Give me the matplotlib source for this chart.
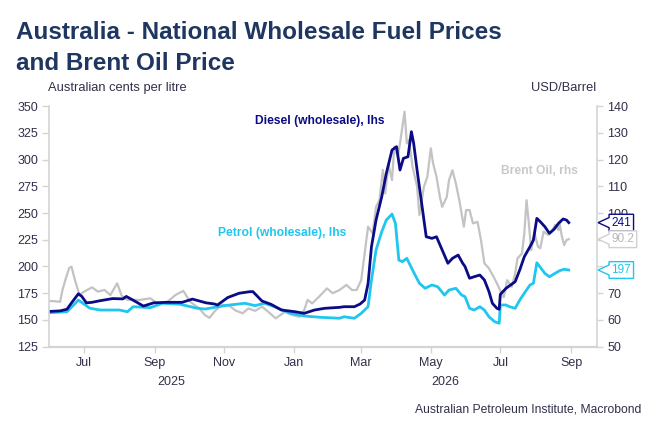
import numpy as np
import pandas as pd
import matplotlib
matplotlib.use('Agg')
import matplotlib.pyplot as plt
import matplotlib.dates as mdates
import matplotlib.transforms as mtransforms
from matplotlib.path import Path

plt.rcParams['font.family'] = ['Liberation Sans', 'DejaVu Sans']

# ---- data ----
diesel_dates = ['2025-06-01', '2025-06-10', '2025-06-16', '2025-06-20', '2025-06-26', '2025-06-29',
                '2025-07-03', '2025-07-08', '2025-07-15', '2025-07-26', '2025-08-04', '2025-08-07',
                '2025-08-13', '2025-08-22', '2025-08-31', '2025-09-11', '2025-09-25', '2025-10-04',
                '2025-10-16', '2025-10-23', '2025-10-26', '2025-11-04', '2025-11-14', '2025-11-23',
                '2025-11-26', '2025-12-04', '2025-12-12', '2025-12-21', '2026-01-02', '2026-01-10',
                '2026-01-19', '2026-01-28', '2026-02-10', '2026-02-14', '2026-02-23', '2026-02-28',
                '2026-03-04', '2026-03-07', '2026-03-10', '2026-03-14', '2026-03-19', '2026-03-23',
                '2026-03-28', '2026-04-01', '2026-04-04', '2026-04-07', '2026-04-11', '2026-04-14',
                '2026-04-16', '2026-04-19', '2026-04-23', '2026-04-27', '2026-05-02', '2026-05-06',
                '2026-05-11', '2026-05-16', '2026-05-20', '2026-05-25', '2026-05-29', '2026-05-31',
                '2026-06-04', '2026-06-08', '2026-06-13', '2026-06-17', '2026-06-21', '2026-06-24',
                '2026-06-28', '2026-06-30', '2026-07-01', '2026-07-06', '2026-07-10', '2026-07-14',
                '2026-07-18', '2026-07-22', '2026-07-27', '2026-07-30', '2026-08-02', '2026-08-05',
                '2026-08-09', '2026-08-13', '2026-08-17', '2026-08-21', '2026-08-25', '2026-08-28',
                '2026-08-30']
diesel = [158, 158.5, 160, 166, 174.5, 172,
          166, 166.5, 168, 170, 169.7, 172,
          168.5, 163, 166, 166.5, 166.5, 169.5,
          166, 165, 164, 171, 175, 176.4,
          176.5, 167.7, 164.6, 159.3, 157.7, 156.2,
          159.3, 160.9, 161.8, 162.4, 162.4, 164.9,
          168.6, 184, 218.5, 243.4, 265.2, 287,
          308.9, 312, 290.2, 301.1, 302.6, 326,
          315.1, 290, 259, 227.8, 226.3, 227.8,
          215.4, 203, 207.6, 210.7, 203, 200,
          189, 190.4, 192, 187.4, 176.6, 165.6,
          160.9, 160, 174, 179.6, 182.7, 185.8,
          196.7, 209.1, 218.5, 224.7, 245, 241.9,
          237.2, 231, 234.7, 240.3, 244.4, 243.4,
          241]

petrol_dates = ['2025-06-01', '2025-06-16', '2025-06-20', '2025-06-26', '2025-07-06', '2025-07-15',
                '2025-08-01', '2025-08-08', '2025-08-13', '2025-08-28', '2025-09-08', '2025-09-23',
                '2025-10-08', '2025-10-15', '2025-11-01', '2025-11-19', '2025-11-28', '2025-12-06',
                '2025-12-15', '2025-12-29', '2026-01-10', '2026-01-24', '2026-02-10', '2026-02-14',
                '2026-02-23', '2026-03-01', '2026-03-07', '2026-03-10', '2026-03-14', '2026-03-19',
                '2026-03-23', '2026-03-28', '2026-03-31', '2026-04-03', '2026-04-06', '2026-04-10',
                '2026-04-15', '2026-04-21', '2026-04-26', '2026-05-02', '2026-05-07', '2026-05-13',
                '2026-05-17', '2026-05-23', '2026-05-28', '2026-05-31', '2026-06-04', '2026-06-08',
                '2026-06-13', '2026-06-17', '2026-06-21', '2026-06-26', '2026-06-30', '2026-07-01',
                '2026-07-06', '2026-07-09', '2026-07-14', '2026-07-18', '2026-07-22', '2026-07-27',
                '2026-07-30', '2026-08-02', '2026-08-05', '2026-08-09', '2026-08-13', '2026-08-18',
                '2026-08-22', '2026-08-26', '2026-08-30']
petrol = [156.8, 157.7, 162, 168.6, 161, 159.3,
          159.3, 157.7, 162.4, 161.5, 165.6, 164.7,
          161, 160.2, 163.4, 165.6, 163.4, 165.6,
          162.4, 156.2, 153.7, 152.5, 151.6, 153,
          151.6, 156.2, 162.4, 187.4, 215.4, 232.5,
          243.4, 249, 240.3, 206, 204.5, 207.6,
          196.7, 184.3, 179.6, 182.7, 181.1, 173.3,
          178, 179.6, 173.3, 171.8, 160.9, 159.3,
          162.4, 159.3, 153, 148.4, 146.9, 164,
          164, 162.4, 160.9, 168.6, 175, 182.7,
          184.3, 203.5, 199.2, 193.6, 190.4, 193.6,
          196.1, 197.4, 196.7]

brent_dates = ['2025-06-01', '2025-06-05', '2025-06-10', '2025-06-12', '2025-06-15', '2025-06-18',
               '2025-06-20', '2025-06-23', '2025-06-27', '2025-07-01', '2025-07-08', '2025-07-13',
               '2025-07-19', '2025-07-24', '2025-07-30', '2025-08-03', '2025-08-08', '2025-08-19',
               '2025-08-28', '2025-09-04', '2025-09-12', '2025-09-19', '2025-09-26', '2025-10-02',
               '2025-10-10', '2025-10-15', '2025-10-19', '2025-10-24', '2025-10-30', '2025-11-05',
               '2025-11-11', '2025-11-17', '2025-11-22', '2025-11-28', '2025-12-04', '2025-12-11',
               '2025-12-16', '2025-12-24', '2025-12-31', '2026-01-06', '2026-01-10', '2026-01-13',
               '2026-01-17', '2026-01-23', '2026-01-30', '2026-02-04', '2026-02-10', '2026-02-16',
               '2026-02-21', '2026-02-25', '2026-03-01', '2026-03-04', '2026-03-07', '2026-03-11',
               '2026-03-14', '2026-03-17', '2026-03-20', '2026-03-22', '2026-03-25', '2026-03-28',
               '2026-03-30', '2026-04-02', '2026-04-04', '2026-04-08', '2026-04-10', '2026-04-12',
               '2026-04-15', '2026-04-19', '2026-04-21', '2026-04-25', '2026-04-28', '2026-05-01',
               '2026-05-03', '2026-05-06', '2026-05-09', '2026-05-11', '2026-05-15', '2026-05-17',
               '2026-05-20', '2026-05-23', '2026-05-26', '2026-05-30', '2026-06-01', '2026-06-04',
               '2026-06-07', '2026-06-11', '2026-06-14', '2026-06-17', '2026-06-21', '2026-06-25',
               '2026-06-28', '2026-07-02', '2026-07-04', '2026-07-07', '2026-07-11', '2026-07-14',
               '2026-07-16', '2026-07-20', '2026-07-22', '2026-07-24', '2026-07-26', '2026-07-28',
               '2026-07-31', '2026-08-03', '2026-08-05', '2026-08-08', '2026-08-12', '2026-08-15',
               '2026-08-18', '2026-08-21', '2026-08-22', '2026-08-24', '2026-08-26', '2026-08-28',
               '2026-08-30']
brent = [67.1, 67, 66.8, 71.2, 75.6, 79.5,
         79.9, 74.9, 69.3, 70.6, 72.2, 70.6,
         71.2, 69.3, 73.7, 69, 67.5, 67.5,
         68.1, 66, 66.8, 69.3, 70.9, 66.8,
         64.3, 61.8, 60.8, 63.5, 65.6, 65.4,
         63.5, 62.5, 64.3, 63.4, 65, 62.5,
         60.6, 63, 61.8, 61.2, 63.7, 67.5,
         66.2, 68.7, 71.8, 70, 71.2, 73.1,
         71.2, 71.2, 74.9, 84.9, 94.9, 92.4,
         102.3, 104.8, 116.1, 107.3, 118, 112.3,
         124.8, 121, 126, 137.9, 126, 127.3,
         117.3, 109.8, 99.2, 109.8, 113.6, 124.2,
         118.6, 113.6, 106, 102.3, 106, 112.3,
         116, 111, 104.8, 94.9, 101.1, 101.1,
         96.1, 96.7, 89.9, 81.2, 79.3, 76.2,
         73.7, 70, 68.5, 74.9, 72.4, 77.4,
         83, 84.9, 92.4, 104.8, 96.1, 86.1,
         92.4, 87.4, 86.8, 93, 91.8, 93,
         95.5, 93.6, 96.1, 91.1, 88, 89.9,
         90.2]

tick_months = ['2025-07-01', '2025-09-01', '2025-11-01', '2026-01-01',
               '2026-03-01', '2026-05-01', '2026-07-01', '2026-09-01']

navy = '#0b0b86'
cyan = '#1fc6f0'
grey = '#c3c3c3'
axis_grey = '#d4d4d4'
label_col = '#30304a'


def tag_box(x0, y0, width, height, mutation_size):
    # box with a left-pointing notch, like the Macrobond end value tags
    pad = 0.2 * mutation_size
    x0, y0 = x0 - pad, y0 - pad
    x1, y1 = x0 + width + 2 * pad, y0 + height + 2 * pad
    ym = (y0 + y1) / 2
    half = 0.3 * (y1 - y0)
    tip = 0.93 * mutation_size
    return Path([(x0, y0), (x1, y0), (x1, y1), (x0, y1), (x0, ym + half),
                 (x0 - tip, ym), (x0, ym - half), (x0, y0)], closed=True)


fig = plt.figure(figsize=(6.54, 4.36), dpi=100)
ax = fig.add_axes([0.0754, 0.2048, 0.837, 0.552])
ax2 = ax.twinx()
ax.set_zorder(ax2.get_zorder() + 1)
ax.patch.set_visible(False)

ax2.plot(pd.to_datetime(brent_dates), brent, color=grey, lw=1.6)
ax.plot(pd.to_datetime(petrol_dates), petrol, color=cyan, lw=2)
ax.plot(pd.to_datetime(diesel_dates), diesel, color=navy, lw=2)

ax.set_ylim(125, 350)
ax.set_yticks(np.arange(125, 351, 25))
ax2.set_ylim(50, 140)
ax2.set_yticks(np.arange(50, 141, 10))
ax.set_xlim(pd.Timestamp('2025-05-31 12:00'), pd.Timestamp('2026-09-23 12:00'))
ax.set_xticks(pd.to_datetime(tick_months))
ax.xaxis.set_major_formatter(mdates.DateFormatter('%b'))

for a in (ax, ax2):
    a.spines['top'].set_visible(False)
    for s in a.spines.values():
        s.set_color(axis_grey)
ax.spines['right'].set_visible(False)
ax2.spines['left'].set_visible(False)
ax2.spines['bottom'].set_visible(False)
ax.spines['bottom'].set_linewidth(1.6)
ax.spines['left'].set_linewidth(1.2)
ax2.spines['right'].set_linewidth(1.2)

ax.tick_params(axis='y', length=5, width=1, color=axis_grey, labelsize=9, labelcolor=label_col, pad=3)
ax2.tick_params(axis='y', length=4.3, width=1, color=axis_grey, labelsize=9, labelcolor=label_col, pad=3.5)
ax.tick_params(axis='x', length=4, width=1, color=axis_grey, labelsize=9, labelcolor=label_col, pad=3.5)

# year labels centred on the visible part of each year
x0, x1 = ax.get_xlim()
for yr in (2025, 2026):
    a = max(x0, mdates.date2num(pd.Timestamp(f'{yr}-01-01')))
    b = min(x1, mdates.date2num(pd.Timestamp(f'{yr + 1}-01-01')))
    ax.text((a + b) / 2, -0.148, str(yr), transform=ax.get_xaxis_transform(),
            ha='center', va='center', fontsize=9, color=label_col)

# series labels
ax.text(0.376, 0.939, 'Diesel (wholesale), lhs', transform=ax.transAxes, color=navy,
        fontsize=8.7, fontweight='bold', ha='left', va='center')
ax.text(0.308, 0.471, 'Petrol (wholesale), lhs', transform=ax.transAxes, color=cyan,
        fontsize=8.7, fontweight='bold', ha='left', va='center')
ax.text(0.825, 0.731, 'Brent Oil, rhs', transform=ax.transAxes, color='#c8c8c8',
        fontsize=8.7, fontweight='bold', ha='left', va='center')

# end value tags on the right axis
tags = [(ax, diesel[-1], f'{diesel[-1]:.0f}', navy, navy),
        (ax2, brent[-1], f'{brent[-1]:.1f}', '#b8b8b8', '#d0d0d0'),
        (ax, petrol[-1], f'{petrol[-1]:.0f}', cyan, cyan)]
for src, val, txt, tcol, ecol in tags:
    trans = mtransforms.blended_transform_factory(ax2.transAxes, src.transData)
    ax2.annotate(txt, xy=(1, val), xycoords=trans, xytext=(10.6, 0), textcoords='offset points',
                 ha='left', va='center', fontsize=8.5, color=tcol, annotation_clip=False, zorder=10,
                 bbox=dict(boxstyle=tag_box, fc='white', ec=ecol, lw=1))

# titles and units
title_col = '#1e3660'
fig.text(16.5 / 654, 1 - 39.3 / 436, 'Australia - National Wholesale Fuel Prices', fontsize=17.5,
         fontweight='bold', color=title_col, ha='left', va='baseline')
fig.text(16.5 / 654, 1 - 70 / 436, 'and Brent Oil Price', fontsize=17.5,
         fontweight='bold', color=title_col, ha='left', va='baseline')
fig.text(48 / 654, 1 - 88 / 436, 'Australian cents per litre', fontsize=9.3, color=label_col,
         ha='left', va='center')
fig.text(596 / 654, 1 - 88 / 436, 'USD/Barrel', fontsize=9.3, color=label_col, ha='right', va='center')
fig.text(641 / 654, 1 - 409 / 436, 'Australian Petroleum Institute, Macrobond', fontsize=8.7,
         color=label_col, ha='right', va='center')

fig.savefig('out.png', dpi=100, facecolor='white')
